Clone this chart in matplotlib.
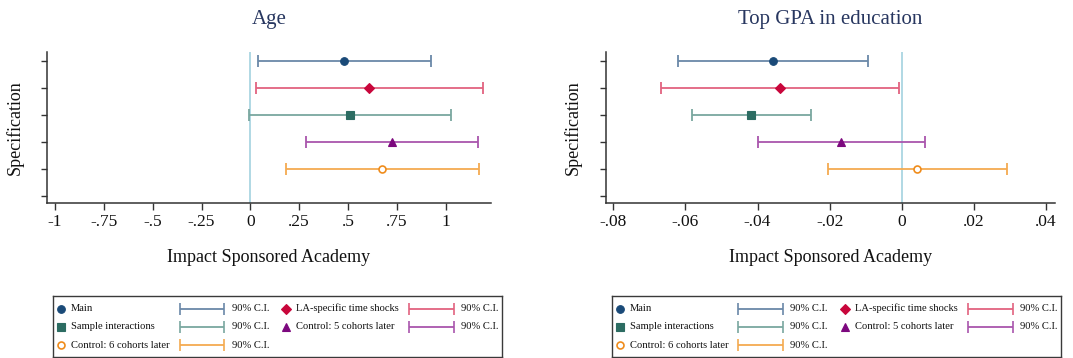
import matplotlib
matplotlib.use("Agg")
import matplotlib.pyplot as plt
from matplotlib.ticker import FuncFormatter

plt.rcParams["font.family"] = ["Liberation Serif", "DejaVu Serif"]

# ---- data -------------------------------------------------------------
specs = ["Main", "LA-specific time shocks", "Sample interactions",
         "Control: 5 cohorts later", "Control: 6 cohorts later"]
spec_pos = [5, 4, 3, 2, 1]

age_est = [0.481, 0.610, 0.512, 0.728, 0.677]
age_lo = [0.039, 0.031, -0.005, 0.285, 0.183]
age_hi = [0.926, 1.192, 1.030, 1.168, 1.171]

gpa_est = [-0.0358, -0.0337, -0.0419, -0.0168, 0.0042]
gpa_lo = [-0.0621, -0.0667, -0.0582, -0.0398, -0.0204]
gpa_hi = [-0.0093, -0.0007, -0.0252, 0.0065, 0.0291]

age_ticks = [-1, -0.75, -0.5, -0.25, 0, 0.25, 0.5, 0.75, 1]
gpa_ticks = [-0.08, -0.06, -0.04, -0.02, 0, 0.02, 0.04]
ci_label = "90% C.I."

# ---- styles -----------------------------------------------------------
styles = [
    dict(marker="o", ms=5.5, mc="#1a4a78", fill=True, ci="#6a88a8", cap="#2e5784"),
    dict(marker="D", ms=5.6, mc="#c8063b", fill=True, ci="#e2627f", cap="#d8436a"),
    dict(marker="s", ms=5.9, mc="#2c6c62", fill=True, ci="#79a79f", cap="#5f958c"),
    dict(marker="^", ms=6.3, mc="#7c087e", fill=True, ci="#a955ad", cap="#922b96"),
    dict(marker="o", ms=5.0, mc="#ef8c1c", fill=False, ci="#f4aa50", cap="#f0a040"),
]

W, H = 1073, 358
fig = plt.figure(figsize=(W / 100, H / 100), dpi=100)

TXT = "#111111"
SPINE = "#333333"


def fmt_tick(v, _pos=None):
    if abs(v) < 1e-12:
        return "0"
    s = f"{v:.2f}".rstrip("0").rstrip(".")
    return s.replace("0.", ".")


def panel(rect, title, est, lo, hi, ticks, xlim):
    ax = fig.add_axes(rect)
    for i, st in enumerate(styles):
        y = spec_pos[i]
        eb = ax.errorbar(est[i], y, xerr=[[est[i] - lo[i]], [hi[i] - est[i]]],
                         fmt="none", ecolor=st["ci"], elinewidth=1.3,
                         capsize=4.6, capthick=1.3, zorder=2)
        for cl in eb[1]:
            cl.set_color(st["cap"])
        ax.plot(est[i], y, linestyle="none", marker=st["marker"],
                markersize=st["ms"],
                markerfacecolor=st["mc"] if st["fill"] else "white",
                markeredgecolor=st["mc"],
                markeredgewidth=1.2 if not st["fill"] else 0.8,
                zorder=3)
    ax.axvline(0, color="#aad6e2", linewidth=1.3, zorder=1)
    ax.set_xlim(*xlim)
    ax.set_ylim(-0.27, 5.33)
    ax.set_xticks(ticks)
    ax.xaxis.set_major_formatter(FuncFormatter(fmt_tick))
    ax.set_yticks(range(0, 6))
    ax.set_yticklabels([])
    for side in ("top", "right"):
        ax.spines[side].set_visible(False)
    for side in ("left", "bottom"):
        ax.spines[side].set_color(SPINE)
        ax.spines[side].set_linewidth(1.1)
    ax.tick_params(axis="x", direction="out", length=5, width=1.0, color=SPINE,
                   labelsize=12.5, labelcolor=TXT, pad=3)
    ax.tick_params(axis="y", direction="out", length=4, width=1.0, color=SPINE)
    ax.set_title(title, fontsize=15, color="#283760", pad=20)
    ax.set_xlabel("Impact Sponsored Academy", fontsize=13, color=TXT)
    ax.xaxis.label.set_va("center")
    ax.xaxis.set_label_coords(0.5, -55 / 151)
    ax.set_ylabel("Specification", fontsize=13, color=TXT)
    ax.yaxis.label.set_va("center")
    return ax


def legend_box(left_px):
    lg = fig.add_axes([left_px / W, 1 - 357 / H, 449 / W, 61 / H])
    lg.set_xlim(0, 449)
    lg.set_ylim(61, 0)
    lg.set_xticks([])
    lg.set_yticks([])
    for sp in lg.spines.values():
        sp.set_color("#3a3a3a")
        sp.set_linewidth(1.0)
    rows = [12.5, 30.5, 49.0]
    mark_x = [8, 233]
    lab_x = [18, 243.5]
    key_x = [(126.5, 171), (356, 401)]
    ci_lab_x = [178.5, 408]
    slots = [(0, 0), (0, 1), (1, 0), (1, 1), (2, 0)]
    for i, st in enumerate(styles):
        r, c = slots[i]
        y = rows[r]
        lg.plot(mark_x[c], y, linestyle="none", marker=st["marker"],
                markersize=st["ms"],
                markerfacecolor=st["mc"] if st["fill"] else "white",
                markeredgecolor=st["mc"],
                markeredgewidth=1.2 if not st["fill"] else 0.8)
        lg.text(lab_x[c], y, specs[i], fontsize=7.6, va="center", ha="left",
                color=TXT)
        x0, x1 = key_x[c]
        eb = lg.errorbar((x0 + x1) / 2, y, xerr=(x1 - x0) / 2, fmt="none",
                         ecolor=st["ci"], elinewidth=1.3, capsize=4.0,
                         capthick=1.2)
        for cl in eb[1]:
            cl.set_color(st["cap"])
        lg.text(ci_lab_x[c], y, ci_label, fontsize=7.6, va="center",
                ha="left", color=TXT)
    return lg


ax1 = panel([46.7 / W, 1 - 203 / H, 444.3 / W, 151 / H], "Age",
            age_est, age_lo, age_hi, age_ticks, (-1.043, 1.233))
ax1.yaxis.set_label_coords(-0.0713, 0.5)
ax2 = panel([605.7 / W, 1 - 203 / H, 449.3 / W, 151 / H], "Top GPA in education",
            gpa_est, gpa_lo, gpa_hi, gpa_ticks, (-0.0821, 0.0425))
ax2.yaxis.set_label_coords(-0.0728, 0.5)

legend_box(53)
legend_box(611.7)

fig.savefig("out.png", dpi=100)
